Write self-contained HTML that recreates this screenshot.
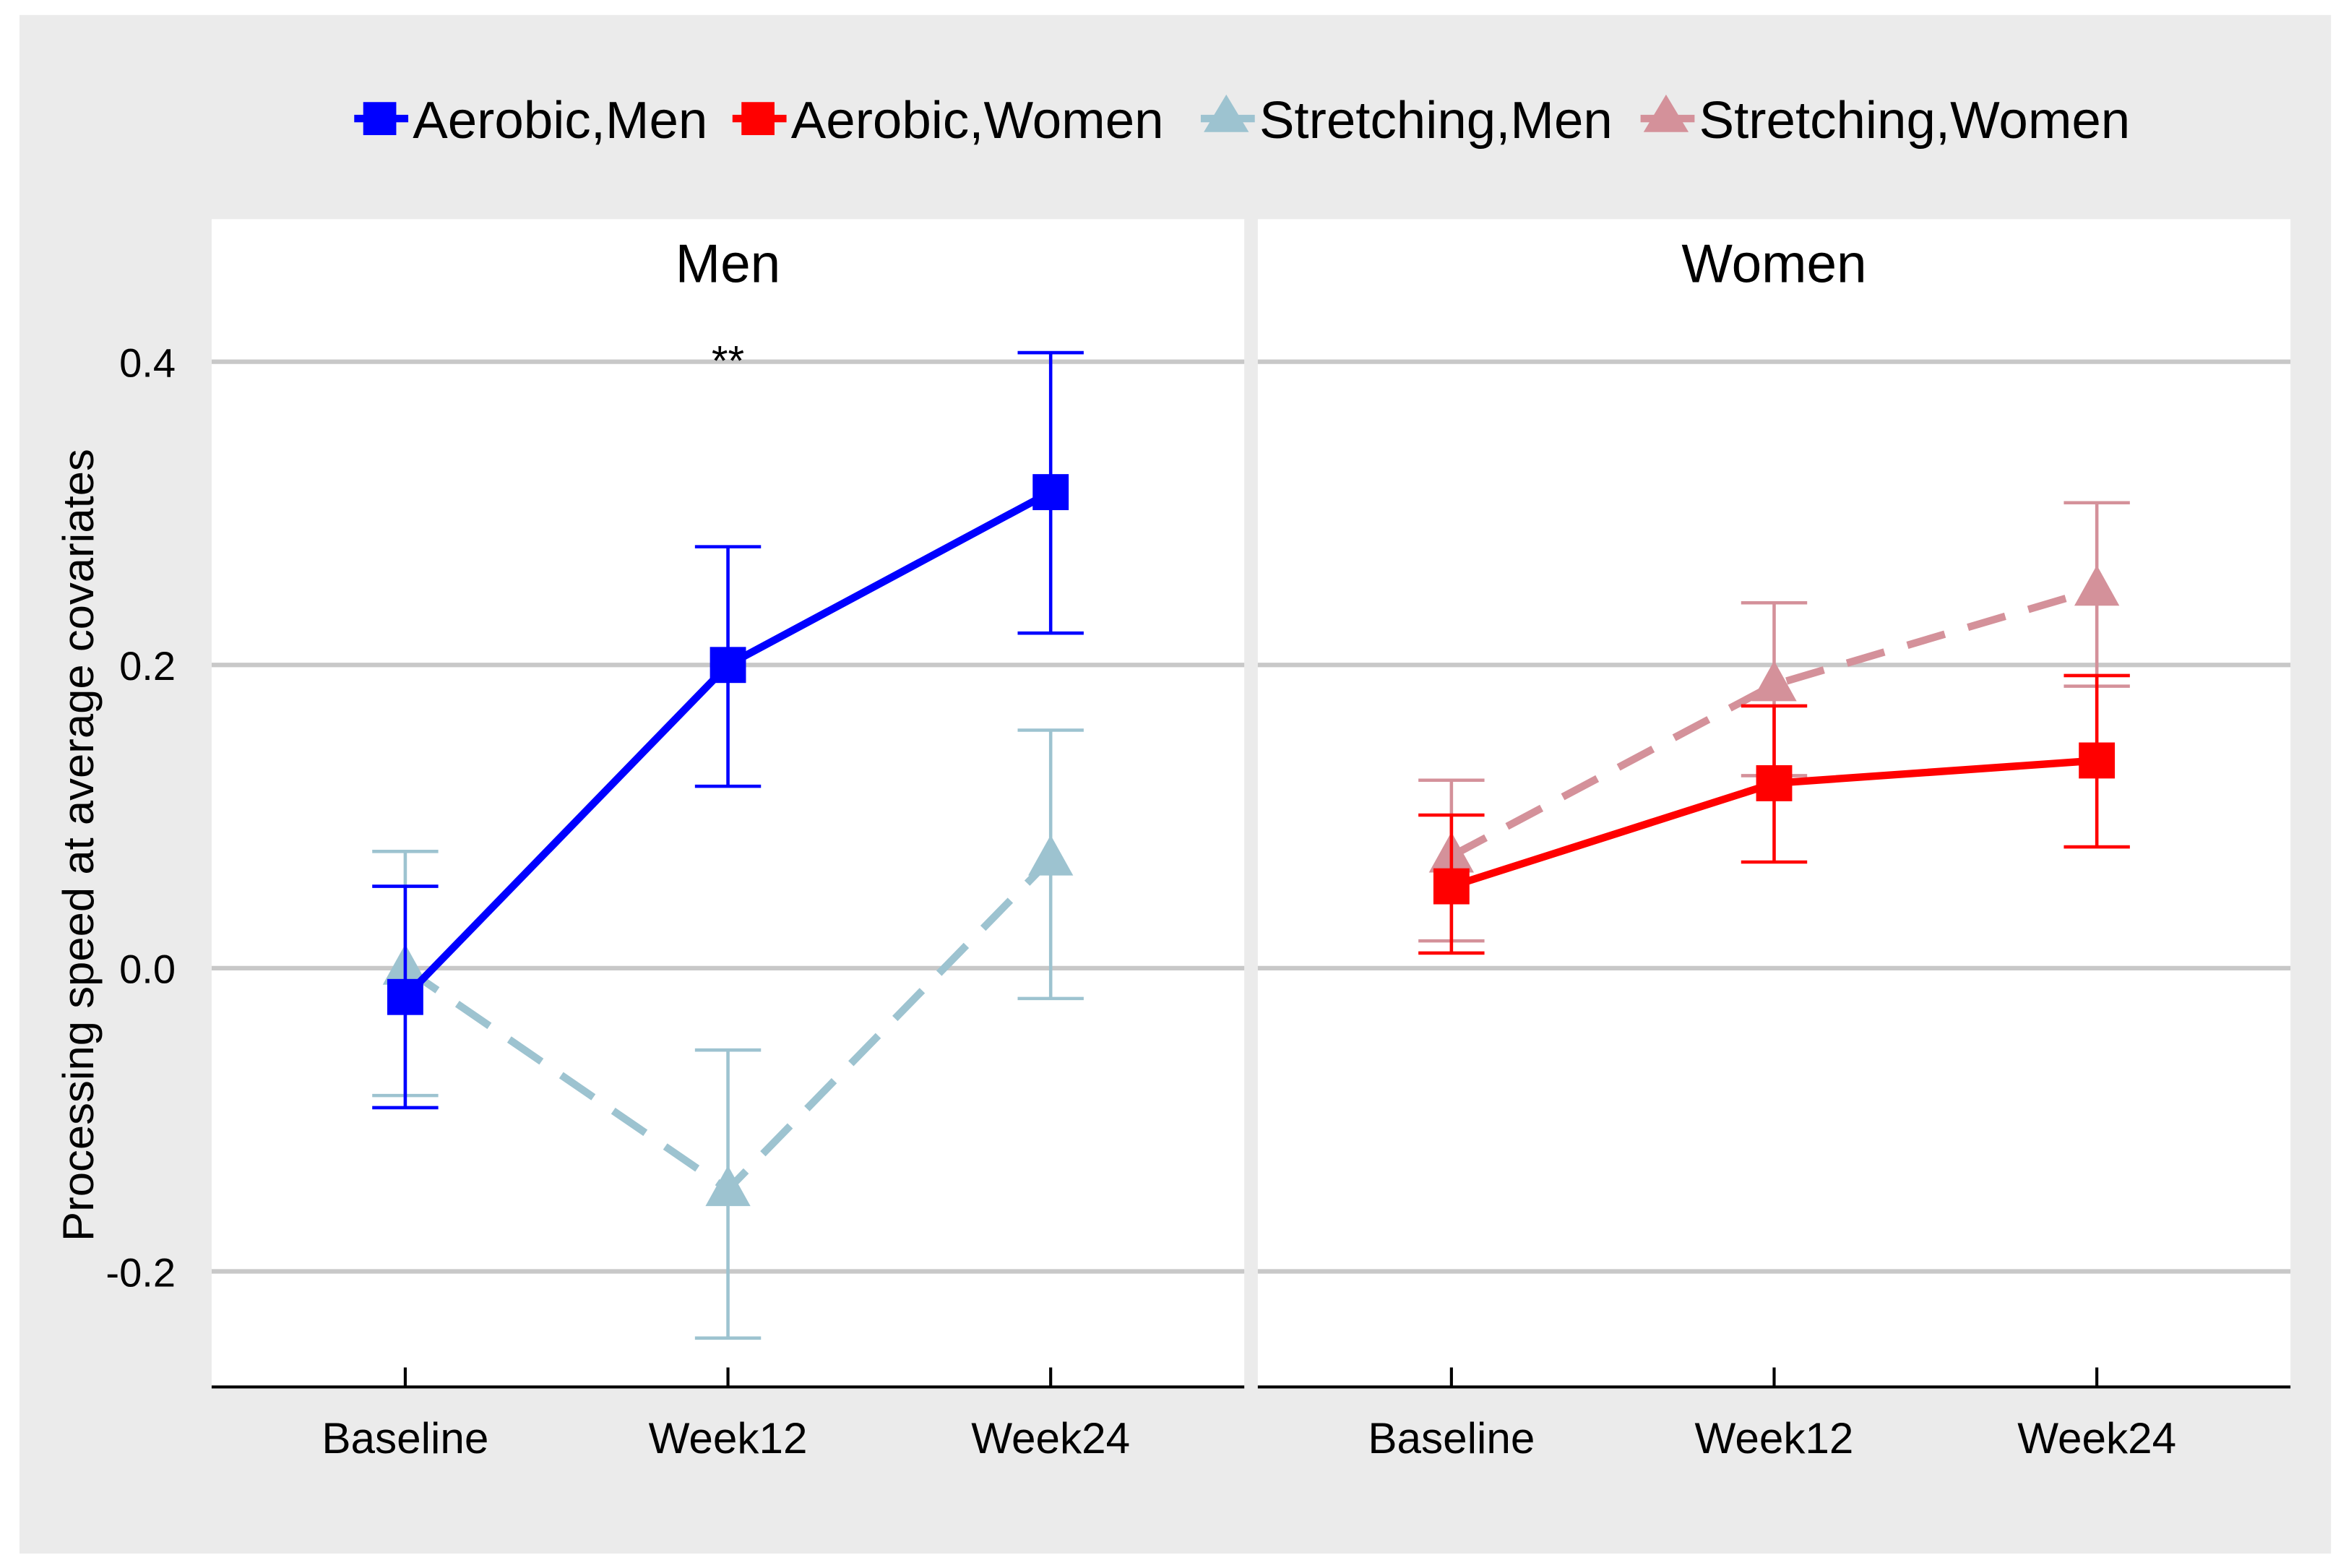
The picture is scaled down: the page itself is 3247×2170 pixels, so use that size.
<!DOCTYPE html>
<html><head><meta charset="utf-8"><style>html,body{margin:0;padding:0;background:#fff}svg{display:block}</style></head>
<body>
<svg id="chart" width="3247" height="2170" viewBox="0 0 1563 1044.6" preserveAspectRatio="none" xmlns="http://www.w3.org/2000/svg" font-family="Liberation Sans, Arial, sans-serif">
<rect x="13" y="10" width="1540" height="1025" fill="#ebebeb"/>
<g id="legend"></g>
<g id="plot"></g>
<text transform="translate(62,563) rotate(-90)" text-anchor="middle" font-size="29" textLength="528" lengthAdjust="spacingAndGlyphs">Processing speed at average covariates</text>
</svg>
<script>
const categories = ["Baseline", "Week12", "Week24"];
const panels = ["Men", "Women"];
const yTicks = [0.4, 0.2, 0.0, -0.2];
const yTickLabels = ["0.4", "0.2", "0.0", "-0.2"];
const seriesNames = ["Aerobic,Men", "Aerobic,Women", "Stretching,Men", "Stretching,Women"];
const aerobicMen = [-0.019, 0.200, 0.314];
const aerobicMenLo = [-0.092, 0.120, 0.221];
const aerobicMenHi = [0.054, 0.278, 0.406];
const stretchMen = [0.000, -0.146, 0.072];
const stretchMenLo = [-0.084, -0.244, -0.020];
const stretchMenHi = [0.077, -0.054, 0.157];
const aerobicWomen = [0.054, 0.122, 0.137];
const aerobicWomenLo = [0.010, 0.070, 0.080];
const aerobicWomenHi = [0.101, 0.173, 0.193];
const stretchWomen = [0.074, 0.187, 0.250];
const stretchWomenLo = [0.018, 0.127, 0.186];
const stretchWomenHi = [0.124, 0.241, 0.307];
const annotations = ["**"];

const NS = "http://www.w3.org/2000/svg";
function mk(tag, attrs, parent, text){const e=document.createElementNS(NS,tag);for(const k in attrs)e.setAttribute(k,attrs[k]);if(text!==undefined)e.textContent=text;parent.appendChild(e);return e;}
const plot = document.getElementById('plot');
const legend = document.getElementById('legend');
const panelX = [141, 838], panelW = 688, panelTop = 146, axisY = 924;
function y(v){return 645 - v*1010;}
function x(p,i){return panelX[p] + 129 + i*215;}

const C = {am:"#0000ff", aw:"#ff0000", sm:"#9dc3d0", sw:"#d4919a"};

panels.forEach((name,p)=>{
  const r = mk('rect',{x:panelX[p],y:panelTop,width:panelW,height:axisY-panelTop,fill:"#ffffff"},plot);
  
  
  const t = mk('text',{x:panelX[p]+panelW/2,y:188,'text-anchor':'middle','font-size':36},plot,name);
  
  
  yTicks.forEach((v,k)=>{
    const g = mk('line',{x1:panelX[p],x2:panelX[p]+panelW,y1:y(v),y2:y(v),stroke:"#c8c8c8","stroke-width":3},plot);
    
    
  });
  const ax = mk('line',{x1:panelX[p],x2:panelX[p]+panelW,y1:axisY,y2:axisY,stroke:"#000","stroke-width":2},plot);
  
  
  categories.forEach((c,i)=>{
    const tk = mk('line',{x1:x(p,i),x2:x(p,i),y1:axisY-13,y2:axisY,stroke:"#000","stroke-width":2},plot);
    
    
    const tl = mk('text',{x:x(p,i),y:968,'text-anchor':'middle','font-size':29},plot,c);
    
    
  });
});
yTicks.forEach((v,k)=>{
  const tl = mk('text',{x:117,y:y(v)+10,'text-anchor':'end','font-size':27},plot,yTickLabels[k]);
  
  
});

function drawSeries(p, vals, lo, hi, color, dashed, shape, key){
  const g = mk('g',{},plot);
  
  
  categories.forEach((c,i)=>{
    const xx=x(p,i);
    const e = mk('path',{d:`M${xx},${y(lo[i])}V${y(hi[i])}M${xx-22},${y(lo[i])}H${xx+22}M${xx-22},${y(hi[i])}H${xx+22}`,stroke:color,'stroke-width':2.2,fill:'none'},g);
    
    
  });
  const pts = vals.map((v,i)=>x(p,i)+','+y(v)).join(' ');
  const l = mk('polyline',{points:pts,stroke:color,'stroke-width':5,fill:'none','stroke-dasharray':dashed?'26 16':'none'},g);
  
  
  vals.forEach((v,i)=>{
    const xx=x(p,i), yy=y(v);
    let m;
    if(shape==='sq') m = mk('rect',{x:xx-12,y:yy-12,width:24,height:24,fill:color},g);
    else m = mk('polygon',{points:`${xx},${yy-16} ${xx-15},${yy+11} ${xx+15},${yy+11}`,fill:color},g);
    
    
  });
}
drawSeries(0, stretchMen, stretchMenLo, stretchMenHi, C.sm, true, 'tri', 'stretching-men');
drawSeries(0, aerobicMen, aerobicMenLo, aerobicMenHi, C.am, false, 'sq', 'aerobic-men');
drawSeries(1, stretchWomen, stretchWomenLo, stretchWomenHi, C.sw, true, 'tri', 'stretching-women');
drawSeries(1, aerobicWomen, aerobicWomenLo, aerobicWomenHi, C.aw, false, 'sq', 'aerobic-women');

const an = mk('text',{x:x(0,1),y:250,'text-anchor':'middle','font-size':28},plot,annotations[0]);



const legX = [236, 488, 800, 1093];
const legColors = [C.am, C.aw, C.sm, C.sw];
const legShapes = ['sq','sq','tri','tri'];
seriesNames.forEach((n,k)=>{
  const g = mk('g',{},legend);
  
  
  const cx = legX[k]+17, cy = 79;
  mk('line',{x1:legX[k],x2:legX[k]+36,y1:cy,y2:cy,stroke:legColors[k],'stroke-width':5},g);
  if(legShapes[k]==='sq') mk('rect',{x:cx-11,y:cy-11,width:22,height:22,fill:legColors[k]},g);
  else mk('polygon',{points:`${cx},${cy-16} ${cx-15},${cy+9} ${cx+15},${cy+9}`,fill:legColors[k]},g);
  mk('text',{x:legX[k]+39,y:92,'font-size':35},g,n);
});
</script>
</body></html>
